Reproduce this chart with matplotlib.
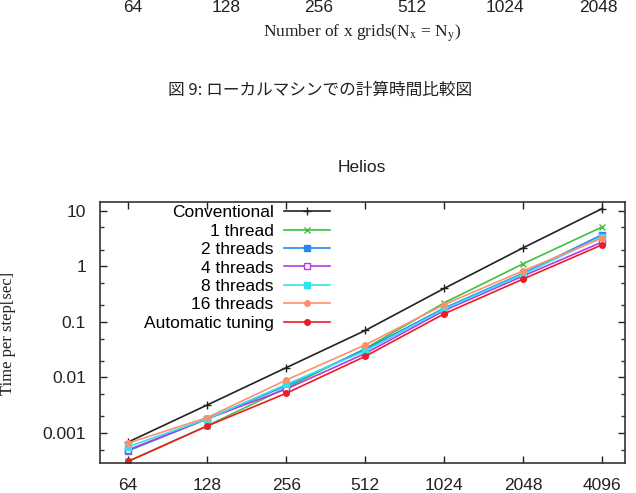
import matplotlib
matplotlib.use("Agg")
import matplotlib.pyplot as plt
from matplotlib.ticker import FixedLocator, NullFormatter

# Data (time per step in seconds)
grids = [64, 128, 256, 512, 1024, 2048, 4096]
conventional = [0.00069, 0.0032, 0.015, 0.070, 0.40, 2.15, 10.9]
thread1 = [0.00031, 0.00135, 0.0065, 0.033, 0.22, 1.11, 5.1]
thread2 = [0.00048, 0.0018, 0.0071, 0.032, 0.177, 0.75, 3.7]
thread4 = [0.00050, 0.0018, 0.0062, 0.027, 0.16, 0.67, 2.73]
thread8 = [0.00057, 0.0018, 0.0075, 0.030, 0.17, 0.72, 3.4]
thread16 = [0.00066, 0.0019, 0.0090, 0.0385, 0.205, 0.83, 3.22]
auto_tuning = [0.00031, 0.00134, 0.0052, 0.024, 0.14, 0.59, 2.44]

series_labels = ['Conventional', '1 thread', '2 threads', '4 threads',
                 '8 threads', '16 threads', 'Automatic tuning']
series_values = [conventional, thread1, thread2, thread4,
                 thread8, thread16, auto_tuning]

# previous figure's leftover bits at the top of the page
prev_ticks = ['64', '128', '256', '512', '1024', '2048']
prev_xlabel = 'Number of x grids(N$_{\\rm x}$ = N$_{\\rm y}$)'
caption = '図 9: ローカルマシンでの計算時間比較図'

STYLE = {
    'colors': ['#222222', '#3fc13f', '#2a88f0', '#b03ce6',
               '#2fe3ee', '#ff8f6b', '#ee1b24'],
    'markers': ['+', 'x', 's', 's', 's', 'o', 'o'],
    'filled': [True, True, True, False, True, True, True],
    'sans': 'Liberation Sans',
    'serif': 'Liberation Serif',
    'cjk': 'Noto Sans CJK JP',
}

W, H = 636, 493
plt.rcParams['mathtext.fontset'] = 'stix'

fig = plt.figure(figsize=(W / 100, H / 100), dpi=100)


def px(x, y):
    return x / W, 1 - y / H


# top of page: remains of the previous chart and the caption
for i, lab in enumerate(prev_ticks):
    fig.text(*px(133 + 93 * i, 7), lab, ha='center', va='center',
             fontsize=12.5, family=STYLE['sans'], color='#222222')
fig.text(*px(362, 33), prev_xlabel, ha='center', va='center',
         fontsize=12.5, family=STYLE['serif'], color='#222222')
fig.text(*px(320, 90), caption, ha='center', va='center',
         fontsize=12, family=[STYLE['cjk'], 'DejaVu Sans'], color='#222222')

# main chart
ax = fig.add_axes([100 / W, 1 - 463 / H, 525 / W, 261 / H])
ax.set_xscale('log', base=2)
ax.set_yscale('log')

for label, vals, c, m, f in zip(series_labels, series_values, STYLE['colors'],
                                STYLE['markers'], STYLE['filled']):
    ax.plot(grids, vals, color=c, linewidth=1.2, marker=m,
            markersize=4 if m != '+' else 6,
            markerfacecolor=c if f else 'white', markeredgecolor=c,
            markeredgewidth=1.0, label=label)

ax.set_xlim(50, 5000)
ax.set_ylim(0.00029, 14.3)
ax.xaxis.set_major_locator(FixedLocator(grids))
ax.set_xticklabels([str(g) for g in grids])
ax.xaxis.set_minor_locator(FixedLocator([]))
ax.yaxis.set_major_locator(FixedLocator([0.001, 0.01, 0.1, 1, 10]))
ax.set_yticklabels(['0.001', '0.01', '0.1', '1', '10'])
minor_y = [m * 10.0 ** e for e in range(-4, 2) for m in (2, 5)]
ax.yaxis.set_minor_locator(FixedLocator(minor_y))
ax.yaxis.set_minor_formatter(NullFormatter())

ax.tick_params(which='both', direction='in', top=True, right=True,
               color='#333333', width=1.0)
ax.tick_params(which='major', length=5, labelsize=12.5, colors='#222222')
ax.tick_params(which='minor', length=3)
ax.tick_params(axis='y', pad=10)
ax.tick_params(axis='x', pad=11)
for t in ax.get_xticklabels() + ax.get_yticklabels():
    t.set_fontfamily(STYLE['sans'])
for s in ax.spines.values():
    s.set_color('#333333')
    s.set_linewidth(1.2)

fig.text(*px(362, 168), 'Helios', ha='center', va='center',
         fontsize=12.5, family=STYLE['sans'], color='#222222')
fig.text(*px(8, 333), 'Time per step[sec]', ha='center', va='center',
         rotation=90, fontsize=12, family=STYLE['serif'], color='#222222')

leg = ax.legend(loc='upper right', bbox_to_anchor=px(330, 205),
                bbox_transform=fig.transFigure, frameon=False,
                markerfirst=False, handlelength=2.65, handletextpad=0.6,
                labelspacing=0.19, borderpad=0, borderaxespad=0,
                prop={'family': STYLE['sans'], 'size': 12.5})

fig.savefig('out.png', dpi=100)
